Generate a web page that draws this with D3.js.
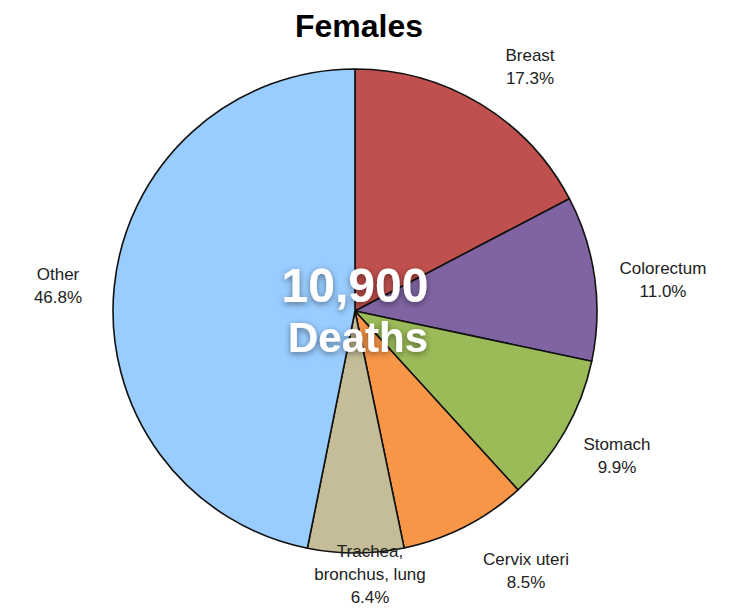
<!DOCTYPE html>
<html>
<head>
<meta charset="utf-8">
<script src="https://cdn.jsdelivr.net/npm/d3@7"></script>
<style>
  body { margin: 0; background: #fff; }
  text { font-family: "Liberation Sans", Arial, sans-serif; }
</style>
</head>
<body>
<div id="chart"></div>
<script>
// data (clockwise from 12 o'clock)
var causes = ["Breast", "Colorectum", "Stomach", "Cervix uteri", "Trachea, bronchus, lung", "Other"];
var shares = [17.3, 11.0, 9.9, 8.5, 6.4, 46.8];
var colors = ["#c0504d", "#8064a2", "#9bbb59", "#f79646", "#c4bd97", "#99ccff"];
// label lines and where they sit
var labelLines = [["Breast", "17.3%"], ["Colorectum", "11.0%"], ["Stomach", "9.9%"],
  ["Cervix uteri", "8.5%"], ["Trachea,", "bronchus, lung", "6.4%"], ["Other", "46.8%"]];
var labelPos = [[530, 61], [663, 274], [617, 450], [526, 565], [370, 557], [58, 280]];

var svgWidth = 743;
var svgHeight = 609;
var cx = 355, cy = 311, radius = 242;

var svg = d3.select("#chart")
  .append("svg")
  .attr("width", svgWidth)
  .attr("height", svgHeight);

var defs = svg.append("defs");
var shadow = defs.append("filter").attr("id", "shadow")
  .attr("x", "-20%").attr("y", "-20%").attr("width", "140%").attr("height", "140%");
shadow.append("feDropShadow")
  .attr("dx", 0).attr("dy", 2)
  .attr("stdDeviation", 3)
  .attr("flood-color", "#000")
  .attr("flood-opacity", 0.45);

var pieData = causes.map(function(c, i) { return { name: c, value: shares[i], color: colors[i] }; });

var pie = d3.pie()
  .sort(null)
  .value(d => d.value);

var arc = d3.arc()
  .innerRadius(0)
  .outerRadius(radius);

var pieGroup = svg.append("g")
  .attr("transform", `translate(${cx}, ${cy})`);

pieGroup.selectAll("path")
  .data(pie(pieData))
  .enter()
  .append("path")
  .attr("d", arc)
  .attr("fill", d => d.data.color)
  .attr("stroke", "#111")
  .attr("stroke-width", 1.6)
  .attr("stroke-linejoin", "round");

// title
svg.append("text")
  .attr("x", 359)
  .attr("y", 37)
  .attr("text-anchor", "middle")
  .attr("font-size", "32px")
  .attr("font-weight", "bold")
  .attr("fill", "#000")
  .text("Females");

// slice labels
labelLines.forEach(function(lines, i) {
  var t = svg.append("text")
    .attr("x", labelPos[i][0])
    .attr("y", labelPos[i][1])
    .attr("text-anchor", "middle")
    .attr("font-size", "17px")
    .attr("fill", "#222");
  lines.forEach(function(line, j) {
    t.append("tspan")
      .attr("x", labelPos[i][0])
      .attr("dy", j === 0 ? 0 : 23)
      .text(line);
  });
});

// center text
var center = svg.append("g").attr("filter", "url(#shadow)");
center.append("text")
  .attr("x", cx)
  .attr("y", 302)
  .attr("text-anchor", "middle")
  .attr("font-size", "48px")
  .attr("font-weight", "bold")
  .attr("fill", "#fff")
  .text("10,900");
center.append("text")
  .attr("x", cx + 3)
  .attr("y", 352)
  .attr("text-anchor", "middle")
  .attr("font-size", "42px")
  .attr("font-weight", "bold")
  .attr("fill", "#fff")
  .text("Deaths");
</script>
</body>
</html>
